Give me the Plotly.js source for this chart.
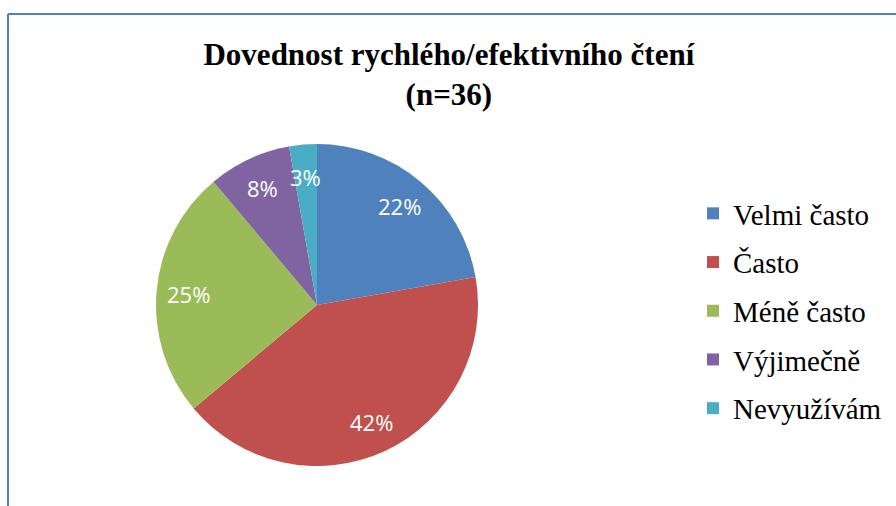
<!DOCTYPE html>
<html>
<head>
<meta charset="utf-8">
<script src="https://cdn.plot.ly/plotly-3.0.1.min.js"></script>
<style>html,body{margin:0;padding:0;background:#fff;}#chart{width:896px;height:506px;}</style>
</head>
<body>
<div id="chart"></div>
<script>
const titleLines = ["Dovednost rychlého/efektivního čtení", "(n=36)"];
const categories = ["Velmi často", "Často", "Méně často", "Výjimečně", "Nevyužívám"];
const counts = [8, 15, 9, 3, 1];
const colors = ["#4F81BD", "#C0504D", "#9BBB59", "#8064A2", "#4BACC6"];

const W = 896, H = 506;
const cx = 317, cy = 305, R = 161;
const labelR = 0.8;
const serif = "'Liberation Serif', 'Times New Roman', serif";

const total = counts.reduce((a, b) => a + b, 0);
const annotations = [];
let cum = 0;
counts.forEach((v, i) => {
  const mid = (cum + v / 2) / total * 2 * Math.PI;
  cum += v;
  const px = cx + labelR * R * Math.sin(mid);
  const py = cy - labelR * R * Math.cos(mid);
  annotations.push({
    x: px / W, y: 1 - py / H, xref: 'paper', yref: 'paper',
    text: Math.round(v / total * 100) + '%', showarrow: false,
    font: {family: "'Open Sans', sans-serif", size: 22, color: '#ffffff'},
    xanchor: 'center', yanchor: 'middle'
  });
});

const data = [{
  type: 'pie',
  labels: categories,
  values: counts,
  sort: false,
  direction: 'clockwise',
  rotation: 0,
  marker: {colors: colors, line: {width: 0}},
  textinfo: 'none',
  hoverinfo: 'none',
  showlegend: false,
  domain: {x: [(cx - R) / W, (cx + R) / W], y: [1 - (cy + R) / H, 1 - (cy - R) / H]}
}];
// legend entries (one per category, same colours as the slices)
categories.forEach((c, i) => {
  data.push({
    type: 'bar', x: [null], y: [null], name: c,
    marker: {color: colors[i], line: {width: 0}},
    legendgroup: 'g' + i, showlegend: true, hoverinfo: 'none'
  });
});

const layout = {
  width: W, height: H,
  margin: {l: 0, r: 0, t: 0, b: 0},
  paper_bgcolor: '#ffffff',
  plot_bgcolor: 'rgba(0,0,0,0)',
  xaxis: {visible: false, domain: [0, 0.01]},
  yaxis: {visible: false, domain: [0, 0.01]},
  title: {
    text: '<b>' + titleLines.join('<br>') + '</b>',
    font: {family: serif, size: 31, color: '#000000'},
    x: 0.501, xanchor: 'center', xref: 'paper',
    y: 1 - 65 / H, yanchor: 'top', yref: 'container'
  },
  showlegend: true,
  legend: {
    x: 693 / W, xanchor: 'left', y: 1 - 188 / H, yanchor: 'top',
    font: {family: serif, size: 29, color: '#000000'},
    bgcolor: 'rgba(0,0,0,0)',
    tracegroupgap: 8,
    traceorder: 'grouped'
  },
  annotations: annotations,
  shapes: [
    {type: 'line', xref: 'paper', yref: 'paper', x0: 8 / W, x1: 8 / W, y0: 0, y1: 1 - 14 / H, line: {color: '#4F81BD', width: 2}},
    {type: 'line', xref: 'paper', yref: 'paper', x0: 8 / W, x1: 1, y0: 1 - 14 / H, y1: 1 - 14 / H, line: {color: '#4F81BD', width: 2}}
  ]
};

Plotly.newPlot('chart', data, layout, {displayModeBar: false, staticPlot: true});
</script>
</body>
</html>
